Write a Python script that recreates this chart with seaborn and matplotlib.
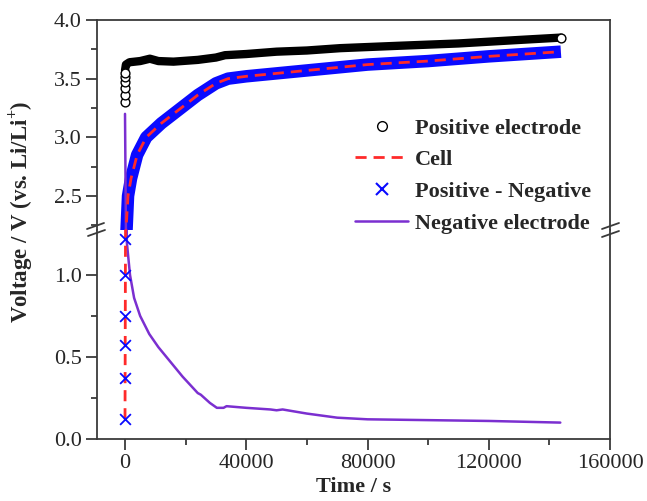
import numpy as np
import pandas as pd
import matplotlib
matplotlib.use("Agg")
import matplotlib.pyplot as plt
from matplotlib.lines import Line2D
import seaborn as sns

# ---------------- data ----------------
# Positive electrode: initial stack of points at t=0, then the dense band
pos_start_t = [0, 0, 0, 0, 0, 0]
pos_start_v = [3.30, 3.36, 3.42, 3.47, 3.51, 3.55]
pos_t = [0, 300, 1500, 5000, 8200, 11000, 16000, 24000, 30000, 33000,
         40000, 50000, 60000, 71000, 90000, 110000, 130000, 143800]
pos_v = [3.57, 3.62, 3.64, 3.65, 3.67, 3.65, 3.645, 3.66, 3.68, 3.70,
         3.71, 3.73, 3.74, 3.76, 3.78, 3.80, 3.83, 3.85]

# Cell voltage
cell_t = [0, 300, 1000, 2000, 4000, 7000, 12000, 18000, 24000, 30000,
          34000, 40000, 60000, 80000, 100000, 120000, 143800]
cell_v = [0.12, 2.20, 2.50, 2.65, 2.85, 3.00, 3.12, 3.24, 3.36, 3.46,
          3.50, 3.52, 3.57, 3.62, 3.65, 3.69, 3.73]

# Positive - Negative: low points at t=0, then the dense band
pn_start_t = [0, 0, 0, 0, 0, 0]
pn_start_v = [0.12, 0.37, 0.57, 0.75, 1.00, 1.22]
pn_t = [400, 1000, 2000, 4000, 7000, 12000, 18000, 24000, 30000,
        34000, 40000, 60000, 80000, 100000, 120000, 143800]
pn_v = [2.15, 2.50, 2.65, 2.85, 3.00, 3.12, 3.24, 3.36, 3.46,
        3.50, 3.52, 3.57, 3.62, 3.65, 3.69, 3.73]

# Negative electrode
neg_t = [0, 600, 1650, 3000, 5000, 8000, 11000, 15000, 19000, 23000,
         24000, 25000, 28000, 30300, 32500, 33500, 40000, 48000, 50000,
         52000, 60000, 70000, 80000, 100000, 120000, 143600]
neg_v = [3.20, 1.20, 1.00, 0.86, 0.75, 0.64, 0.56, 0.47, 0.38, 0.30,
         0.28, 0.27, 0.22, 0.19, 0.19, 0.20, 0.19, 0.18, 0.175,
         0.18, 0.155, 0.13, 0.12, 0.115, 0.11, 0.10]

x_ticks = [0, 40000, 80000, 120000, 160000]
upper_ticks = [2.5, 3.0, 3.5, 4.0]
lower_ticks = [0.0, 0.5, 1.0]

labels = ["Positive electrode", "Cell", "Positive - Negative", "Negative electrode"]

# ---------------- style ----------------
sns.set_theme(style="ticks")
plt.rcParams["font.family"] = ["Liberation Serif", "DejaVu Serif"]
plt.rcParams["mathtext.fontset"] = "custom"
plt.rcParams["mathtext.rm"] = "Liberation Serif:bold"
plt.rcParams["mathtext.bf"] = "Liberation Serif:bold"

BLACK = "black"
RED = "#ff2a2a"
BLUE = "#0a0aff"
PURPLE = "#7b2fd0"
SPINE = "#3a3a3a"
FS = 16

fig = plt.figure(figsize=(6.47, 5.01), dpi=100)
L, R = 97 / 647, 610 / 647
T, B, M = 1 - 20 / 501, 1 - 439 / 501, 1 - 230 / 501
ax_up = fig.add_axes([L, M, R - L, T - M])
ax_lo = fig.add_axes([L, B, R - L, M - B])

df_pos = pd.DataFrame({"t": pos_t, "v": pos_v})
df_pos0 = pd.DataFrame({"t": pos_start_t + [pos_t[-1]], "v": pos_start_v + [pos_v[-1]]})
df_cell = pd.DataFrame({"t": cell_t, "v": cell_v})
df_pn = pd.DataFrame({"t": pn_t, "v": pn_v})
df_pn0 = pd.DataFrame({"t": pn_start_t, "v": pn_start_v})
df_neg = pd.DataFrame({"t": neg_t, "v": neg_v})

for ax in (ax_up, ax_lo):
    sns.lineplot(data=df_pos, x="t", y="v", ax=ax, color=BLACK, lw=6,
                 sort=False, estimator=None, legend=False, zorder=3)
    sns.scatterplot(data=df_pos0, x="t", y="v", ax=ax, marker="o", s=40,
                    facecolor="white", edgecolor=BLACK, linewidth=1.0,
                    legend=False, zorder=4)
    sns.lineplot(data=df_pn, x="t", y="v", ax=ax, color=BLUE, lw=9,
                 sort=False, estimator=None, legend=False, zorder=2,
                 solid_capstyle="butt")
    sns.lineplot(data=df_neg, x="t", y="v", ax=ax, color=PURPLE, lw=1.8,
                 sort=False, estimator=None, legend=False, zorder=3)
    sns.lineplot(data=df_cell, x="t", y="v", ax=ax, color=RED, lw=2.0,
                 sort=False, estimator=None, legend=False, zorder=5,
                 dashes=False, linestyle=(0, (4, 2.5)))
    sns.scatterplot(data=df_pn0, x="t", y="v", ax=ax, marker="x", s=60,
                    color=BLUE, linewidth=1.3, legend=False, zorder=6)
    ax.set_xlim(-9240, 160000)
    ax.set_xlabel("")
    ax.set_ylabel("")
    for s in ax.spines.values():
        s.set_color(SPINE)
        s.set_linewidth(1.3)
    ax.tick_params(axis="both", which="major", direction="out", length=8,
                   width=1.3, color=SPINE, labelsize=FS, pad=3)
    ax.tick_params(axis="both", which="minor", direction="out", length=4,
                   width=1.3, color=SPINE)
    ax.tick_params(top=False, right=False, which="both")

ax_up.set_ylim(2.21, 4.0)
ax_up.set_yticks(upper_ticks)
ax_up.set_yticks([2.25, 2.75, 3.25, 3.75], minor=True)
ax_up.set_yticklabels([f"{v:.1f}" for v in upper_ticks])
ax_up.spines["bottom"].set_visible(False)
ax_up.tick_params(axis="x", which="both", bottom=False, labelbottom=False)

ax_lo.set_ylim(0, 1.274)
ax_lo.set_yticks(lower_ticks)
ax_lo.set_yticks([0.25, 0.75], minor=True)
ax_lo.set_yticklabels([f"{v:.1f}" for v in lower_ticks])
ax_lo.spines["top"].set_visible(False)
ax_lo.set_xticks(x_ticks)
ax_lo.set_xticks([20000, 60000, 100000, 140000], minor=True)
ax_lo.set_xticklabels([str(v) for v in x_ticks])
ax_lo.set_xlabel("Time / s", fontsize=FS, fontweight="bold", labelpad=3)

fig.text(22 / 647, 1 - 212 / 501, r"Voltage / V (vs. Li/Li$^{+}$)",
         rotation=90, ha="center", va="center", fontsize=16.5, fontweight="bold")

# axis-break marks
W, H = 647, 501
def brk(x0, y0, x1, y1):
    fig.add_artist(Line2D([x0 / W, x1 / W], [1 - y0 / H, 1 - y1 / H],
                          transform=fig.transFigure, color=SPINE, lw=1.3))
brk(87, 229, 104, 223)
brk(88, 236, 105, 230)
brk(602, 229, 619, 223)
brk(602, 237, 619, 231)

handles = [
    Line2D([], [], marker="o", ls="none", mfc="white", mec=BLACK, ms=7, mew=1.0),
    Line2D([], [], color=RED, lw=2.0, ls=(0, (4, 2.5))),
    Line2D([], [], marker="x", ls="none", color=BLUE, ms=9, mew=1.5),
    Line2D([], [], color=PURPLE, lw=1.8),
]
fig.legend(handles, labels, loc="upper left",
           bbox_to_anchor=(355 / W, 1 - 118 / H), frameon=False,
           prop={"family": "Liberation Serif", "weight": "bold", "size": FS},
           handlelength=2.4, handletextpad=0.3, labelspacing=0.5,
           borderpad=0, borderaxespad=0)

fig.savefig("out.png", dpi=100)
